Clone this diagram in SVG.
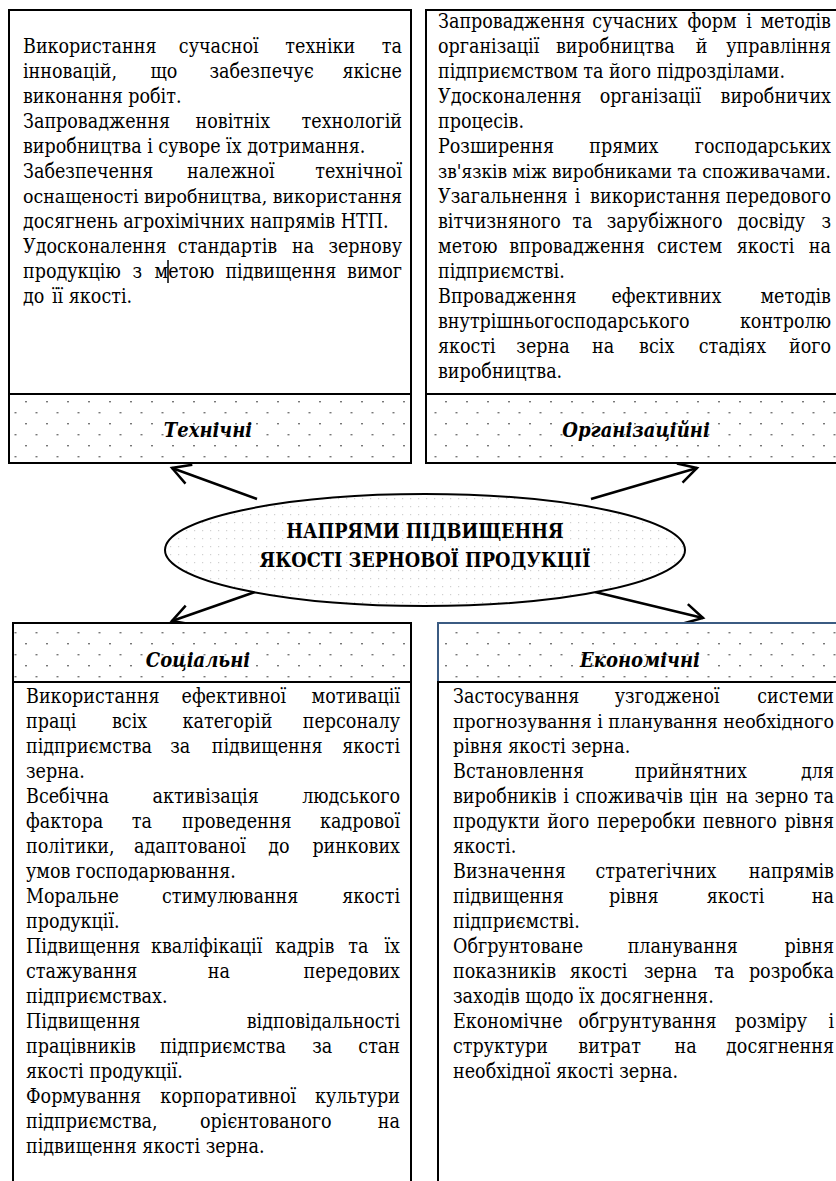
<svg xmlns="http://www.w3.org/2000/svg" width="836" height="1181" viewBox="0 0 836 1181">
<style>
text{font-family:"DejaVu Serif Condensed","DejaVu Serif",serif;font-stretch:condensed;font-size:19.5px;fill:#000}
.m{text-anchor:middle}
.e{text-anchor:end}
.lbl{font-size:20px;font-weight:bold;font-style:italic;text-anchor:middle}
.ttl{font-size:19.7px;font-weight:bold;text-anchor:middle}
.box{fill:#fff;stroke:#000;stroke-width:2}
.band{fill:url(#dots);stroke:#000;stroke-width:2}
.conn{fill:none;stroke:#000;stroke-width:2.5;marker-end:url(#ah)}
</style>
<defs>
<pattern id="dots" width="21" height="22" patternUnits="userSpaceOnUse">
<rect width="21" height="22" fill="#fff"/>
<rect x="4" y="5" width="2" height="1.4" fill="#777"/>
<rect x="14.5" y="16" width="2" height="1.4" fill="#777"/>
</pattern>
<pattern id="fdots" width="8" height="8" patternUnits="userSpaceOnUse">
<rect width="8" height="8" fill="#fff"/>
<rect x="2" y="2" width="1.2" height="1.2" fill="#d0d0d0"/>
</pattern>
<marker id="ah" markerUnits="userSpaceOnUse" viewBox="0 0 24 24" markerWidth="24" markerHeight="24" refX="20" refY="12" orient="auto">
<path d="M2,2 L20,12 L2,22" fill="none" stroke="#000" stroke-width="2.5"/>
</marker>
</defs>
<rect width="836" height="1181" fill="#fff"/>

<g id="connectors">
<path class="conn" d="M257,499 L172,468"/>
<path class="conn" d="M591,499 L697,468"/>
<path class="conn" d="M255,592 L172,621"/>
<path class="conn" d="M595,592 L703,618"/>
</g>

<g id="node-technical">
<rect class="box" x="9" y="10" width="402" height="384"/>
<rect class="band" x="9" y="394" width="402" height="69"/>
<text class="lbl" x="208" y="437">Технічні</text>
<text x="23" y="53">Використання</text><text class="m" x="218.8" y="53">сучасної</text><text class="m" x="320.3" y="53">техніки</text><text class="e" x="402" y="53">та</text>
<text x="23" y="78">інновацій,</text><text class="m" x="164" y="78">що</text><text class="m" x="261.6" y="78">забезпечує</text><text class="e" x="402" y="78">якісне</text>
<text x="23" y="103">виконання робіт.</text>
<text x="23" y="128">Запровадження</text><text class="m" x="232.9" y="128">новітніх</text><text class="e" x="402" y="128">технологій</text>
<text x="23" y="153">виробництва і суворе їх дотримання.</text>
<text x="23" y="178">Забезпечення</text><text class="m" x="230.9" y="178">належної</text><text class="e" x="402" y="178">технічної</text>
<text x="23" y="203" style="font-size:19px" textLength="379" lengthAdjust="spacingAndGlyphs">оснащеності виробництва, використання</text>
<text x="23" y="228">досягнень агрохімічних напрямів НТП.</text>
<text x="23" y="253">Удосконалення</text><text class="m" x="227.5" y="253">стандартів</text><text class="m" x="303.1" y="253">на</text><text class="e" x="402" y="253">зернову</text>
<text x="23" y="278">продукцію</text><text class="m" x="137.2" y="278">з</text><text class="m" x="184.4" y="278">метою</text><text class="m" x="280.8" y="278">підвищення</text><text class="e" x="402" y="278">вимог</text>
<text x="23" y="303">до</text><text x="52" y="303">її якості.</text>
<line x1="168" y1="260" x2="168" y2="283" stroke="#000" stroke-width="1.5"/>
</g>

<g id="node-organizational">
<rect class="box" x="426" y="10" width="420" height="384"/>
<rect class="band" x="426" y="394" width="420" height="69"/>
<text class="lbl" x="636" y="437">Організаційні</text>
<text x="438" y="28">Запровадження</text><text class="m" x="635" y="28">сучасних</text><text class="m" x="712" y="28">форм</text><text class="m" x="749" y="28">і</text><text class="e" x="831" y="28">методів</text>
<text x="438" y="53">організації</text><text class="m" x="615.3" y="53">виробництва</text><text class="m" x="701.7" y="53">й</text><text class="e" x="831" y="53">управління</text>
<text x="438" y="78">підприємством та його підрозділами.</text>
<text x="438" y="103">Удосконалення</text><text class="m" x="650.4" y="103">організації</text><text class="e" x="831" y="103">виробничих</text>
<text x="438" y="128">процесів.</text>
<text x="438" y="153">Розширення</text><text class="m" x="623.9" y="153">прямих</text><text class="e" x="831" y="153">господарських</text>
<text x="438" y="178" style="font-size:18.6px" textLength="393" lengthAdjust="spacingAndGlyphs">зв'язків між виробниками та споживачами.</text>
<text x="438" y="203">Узагальнення</text><text class="m" x="577.6" y="203">і</text><text class="m" x="655.3" y="203">використання</text><text class="e" x="831" y="203">передового</text>
<text x="438" y="228">вітчизняного</text><text class="m" x="582.3" y="228">та</text><text class="m" x="664.6" y="228">зарубіжного</text><text class="m" x="771.2" y="228">досвіду</text><text class="e" x="831" y="228">з</text>
<text x="438" y="253">метою</text><text class="m" x="577.1" y="253">впровадження</text><text class="m" x="689.6" y="253">систем</text><text class="m" x="765.5" y="253">якості</text><text class="e" x="831" y="253">на</text>
<text x="438" y="278">підприємстві.</text>
<text x="438" y="303">Впровадження</text><text class="m" x="666.4" y="303">ефективних</text><text class="e" x="831" y="303">методів</text>
<text x="438" y="328">внутрішньогосподарського</text><text class="e" x="831" y="328">контролю</text>
<text x="438" y="353">якості</text><text class="m" x="543" y="353">зерна</text><text class="m" x="603.1" y="353">на</text><text class="m" x="656.7" y="353">всіх</text><text class="m" x="732.4" y="353">стадіях</text><text class="e" x="831" y="353">його</text>
<text x="438" y="378">виробництва.</text>
</g>

<g id="node-center">
<ellipse cx="425" cy="550" rx="260" ry="56" fill="url(#fdots)" stroke="#000" stroke-width="2"/>
<text class="ttl" x="425" y="538">НАПРЯМИ ПІДВИЩЕННЯ</text>
<text class="ttl" x="425" y="567">ЯКОСТІ ЗЕРНОВОЇ ПРОДУКЦІЇ</text>
</g>

<g id="node-social">
<rect class="band" x="13" y="623" width="398" height="59"/>
<rect class="box" x="13" y="682" width="398" height="520"/>
<text class="lbl" x="198" y="667">Соціальні</text>
<text x="26" y="703">Використання</text><text class="m" x="233.8" y="703">ефективної</text><text class="e" x="400" y="703">мотивації</text>
<text x="26" y="728">праці</text><text class="m" x="129.6" y="728">всіх</text><text class="m" x="227.5" y="728">категорій</text><text class="e" x="400" y="728">персоналу</text>
<text x="26" y="753">підприємства</text><text class="m" x="180.3" y="753">за</text><text class="m" x="267.1" y="753">підвищення</text><text class="e" x="400" y="753">якості</text>
<text x="26" y="778">зерна.</text>
<text x="26" y="803">Всебічна</text><text class="m" x="205.6" y="803">активізація</text><text class="e" x="400" y="803">людського</text>
<text x="26" y="828">фактора</text><text class="m" x="141.8" y="828">та</text><text class="m" x="236.8" y="828">проведення</text><text class="e" x="400" y="828">кадрової</text>
<text x="26" y="853">політики,</text><text class="m" x="189.9" y="853">адаптованої</text><text class="m" x="279" y="853">до</text><text class="e" x="400" y="853">ринкових</text>
<text x="26" y="878">умов господарювання.</text>
<text x="26" y="903">Моральне</text><text class="m" x="230.2" y="903">стимулювання</text><text class="e" x="400" y="903">якості</text>
<text x="26" y="928">продукції.</text>
<text x="26" y="953">Підвищення</text><text class="m" x="206.7" y="953">кваліфікації</text><text class="m" x="304.8" y="953">кадрів</text><text class="m" x="358.3" y="953">та</text><text class="e" x="400" y="953">їх</text>
<text x="26" y="978">стажування</text><text class="m" x="218.8" y="978">на</text><text class="e" x="400" y="978">передових</text>
<text x="26" y="1003">підприємствах.</text>
<text x="26" y="1028">Підвищення</text><text class="e" x="400" y="1028">відповідальності</text>
<text x="26" y="1053">працівників</text><text class="m" x="222.9" y="1053">підприємства</text><text class="m" x="322.2" y="1053">за</text><text class="e" x="400" y="1053">стан</text>
<text x="26" y="1078">якості продукції.</text>
<text x="26" y="1103">Формування</text><text class="m" x="228.2" y="1103">корпоративної</text><text class="e" x="400" y="1103">культури</text>
<text x="26" y="1128">підприємства,</text><text class="m" x="265.8" y="1128">орієнтованого</text><text class="e" x="400" y="1128">на</text>
<text x="26" y="1153">підвищення якості зерна.</text>
</g>

<g id="node-economic">
<rect x="438" y="623" width="408" height="59" fill="url(#dots)" stroke="#3b5b82" stroke-width="2"/>
<rect class="box" x="438" y="682" width="408" height="520"/>
<text class="lbl" x="640" y="667">Економічні</text>
<text x="453" y="703">Застосування</text><text class="m" x="667.2" y="703">узгодженої</text><text class="e" x="834" y="703">системи</text>
<text x="453" y="728" style="font-size:19px" textLength="381" lengthAdjust="spacingAndGlyphs">прогнозування і планування необхідного</text>
<text x="453" y="753">рівня якості зерна.</text>
<text x="453" y="778">Встановлення</text><text class="m" x="690.8" y="778">прийнятних</text><text class="e" x="834" y="778">для</text>
<text x="453" y="803">виробників</text><text class="m" x="566.1" y="803">і</text><text class="m" x="629.2" y="803">споживачів</text><text class="m" x="703.6" y="803">цін</text><text class="m" x="737.2" y="803">на</text><text class="m" x="781.5" y="803">зерно</text><text class="e" x="834" y="803">та</text>
<text x="453" y="828">продукти</text><text class="m" x="568.3" y="828">його</text><text class="m" x="646.4" y="828">переробки</text><text class="m" x="739.8" y="828">певного</text><text class="e" x="834" y="828">рівня</text>
<text x="453" y="853">якості.</text>
<text x="453" y="878">Визначення</text><text class="m" x="656" y="878">стратегічних</text><text class="e" x="834" y="878">напрямів</text>
<text x="453" y="903">підвищення</text><text class="m" x="633.8" y="903">рівня</text><text class="m" x="735.5" y="903">якості</text><text class="e" x="834" y="903">на</text>
<text x="453" y="928">підприємстві.</text>
<text x="453" y="953">Обгрунтоване</text><text class="m" x="682.7" y="953">планування</text><text class="e" x="834" y="953">рівня</text>
<text x="453" y="978">показників</text><text class="m" x="598.6" y="978">якості</text><text class="m" x="670.6" y="978">зерна</text><text class="m" x="724.3" y="978">та</text><text class="e" x="834" y="978">розробка</text>
<text x="453" y="1003">заходів щодо їх досягнення.</text>
<text x="453" y="1028">Економічне</text><text class="m" x="647.4" y="1028">обгрунтування</text><text class="m" x="771.1" y="1028">розміру</text><text class="e" x="834" y="1028">і</text>
<text x="453" y="1053">структури</text><text class="m" x="609.7" y="1053">витрат</text><text class="m" x="685.7" y="1053">на</text><text class="e" x="834" y="1053">досягнення</text>
<text x="453" y="1078">необхідної якості зерна.</text>
</g>
</svg>
